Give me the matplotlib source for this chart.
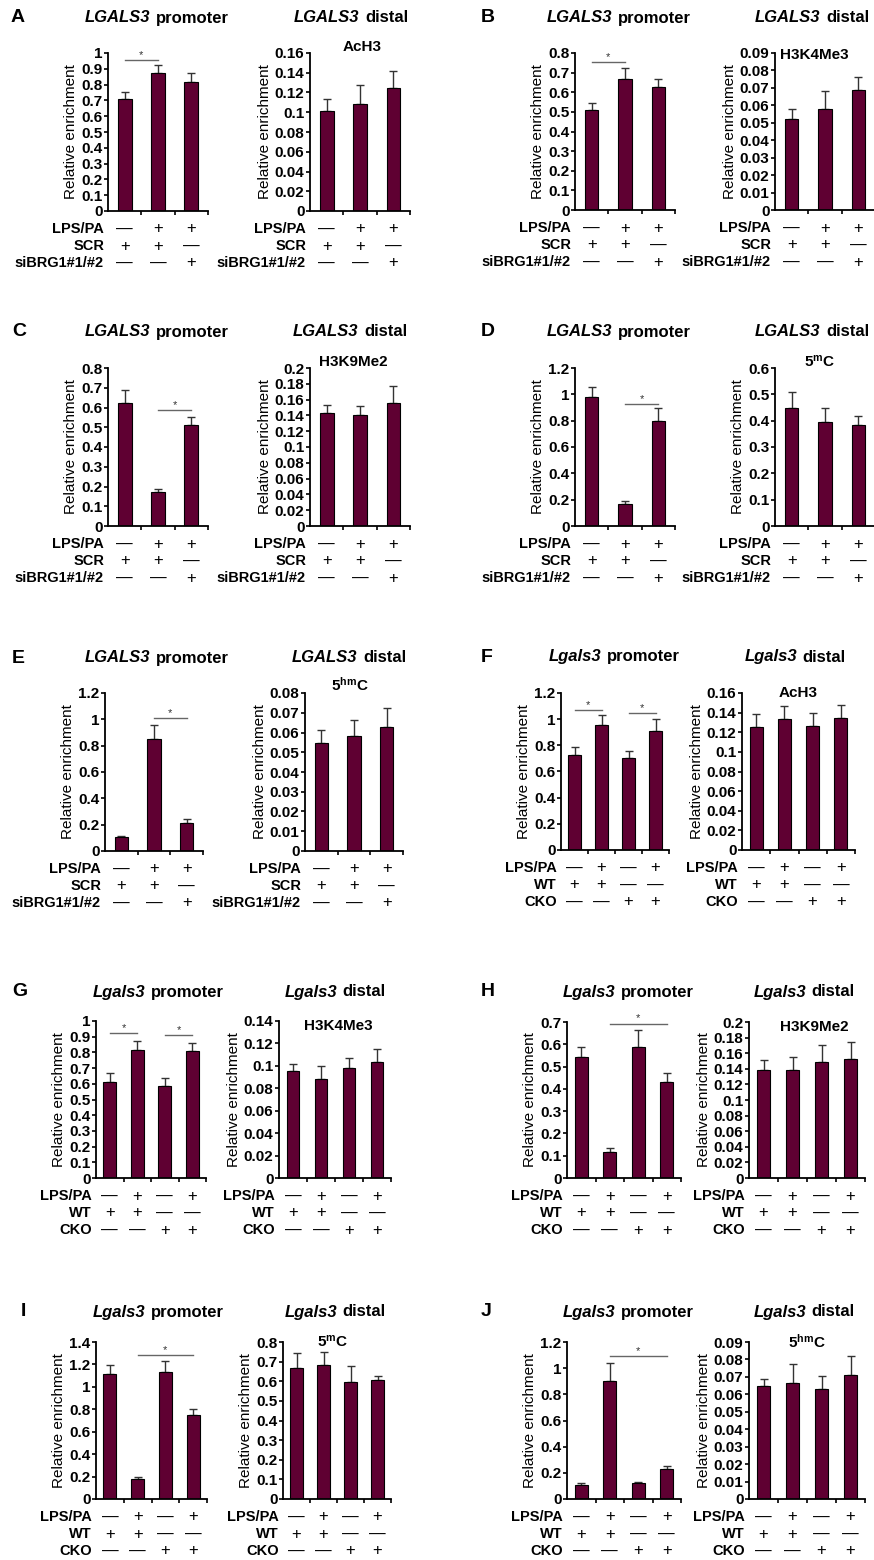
import numpy as np
import matplotlib
matplotlib.use('Agg')
import matplotlib.pyplot as plt
from matplotlib.offsetbox import TextArea, HPacker, AnnotationBbox
from matplotlib.ticker import MultipleLocator, FuncFormatter

plt.rcParams['font.family'] = ['Liberation Sans', 'DejaVu Sans']
plt.rcParams['mathtext.fontset'] = 'custom'
plt.rcParams['mathtext.rm'] = 'Liberation Sans'
plt.rcParams['mathtext.bf'] = 'Liberation Sans:bold'
plt.rcParams['mathtext.it'] = 'Liberation Sans:italic'

# --- data ---
lps3 = ['—', '+', '+']
scr = ['+', '+', '—']
sibrg = ['—', '—', '+']
lps4 = ['—', '+', '—', '+']
wt = ['+', '+', '—', '—']
cko = ['—', '—', '+', '+']

a_prom = [0.708, 0.875, 0.816]; a_prom_err = [0.044, 0.049, 0.057]
a_dist = [0.101, 0.1086, 0.1245]; a_dist_err = [0.012, 0.019, 0.0175]
b_prom = [0.508, 0.665, 0.627]; b_prom_err = [0.037, 0.058, 0.043]
b_dist = [0.0521, 0.0581, 0.0688]; b_dist_err = [0.0058, 0.0099, 0.0077]
c_prom = [0.625, 0.171, 0.510]; c_prom_err = [0.065, 0.014, 0.044]
c_dist = [0.1436, 0.1407, 0.156]; c_dist_err = [0.0094, 0.0113, 0.021]
d_prom = [0.977, 0.165, 0.80]; d_prom_err = [0.076, 0.022, 0.096]
d_dist = [0.45, 0.395, 0.384]; d_dist_err = [0.057, 0.052, 0.035]
e_prom = [0.107, 0.85, 0.214]; e_prom_err = [0.008, 0.11, 0.03]
e_dist = [0.0549, 0.0583, 0.063]; e_dist_err = [0.0065, 0.0081, 0.0092]
f_prom = [0.725, 0.954, 0.70, 0.911]; f_prom_err = [0.064, 0.076, 0.058, 0.092]
f_dist = [0.125, 0.1336, 0.126, 0.1342]; f_dist_err = [0.014, 0.0128, 0.0137, 0.0133]
g_prom = [0.613, 0.818, 0.583, 0.808]; g_prom_err = [0.055, 0.053, 0.055, 0.055]
g_dist = [0.0953, 0.0879, 0.0985, 0.103]; g_dist_err = [0.0065, 0.0118, 0.0083, 0.0121]
h_prom = [0.544, 0.116, 0.589, 0.429]; h_prom_err = [0.045, 0.02, 0.077, 0.043]
h_dist = [0.139, 0.138, 0.1485, 0.153]; h_dist_err = [0.012, 0.017, 0.0215, 0.021]
i_prom = [1.113, 0.181, 1.131, 0.748]; i_prom_err = [0.083, 0.018, 0.103, 0.059]
i_dist = [0.669, 0.685, 0.595, 0.608]; i_dist_err = [0.077, 0.064, 0.081, 0.019]
j_prom = [0.107, 0.90, 0.125, 0.229]; j_prom_err = [0.018, 0.143, 0.007, 0.025]
j_dist = [0.0648, 0.0667, 0.0631, 0.0713]; j_dist_err = [0.0039, 0.0105, 0.0076, 0.0109]

# axis max / tick step
prom_scale = {'A': (1, 0.1), 'B': (0.8, 0.1), 'C': (0.8, 0.1), 'D': (1.2, 0.2), 'E': (1.2, 0.2),
              'F': (1.2, 0.2), 'G': (1, 0.1), 'H': (0.7, 0.1), 'I': (1.4, 0.2), 'J': (1.2, 0.2)}
dist_scale = {'A': (0.16, 0.02), 'B': (0.09, 0.01), 'C': (0.2, 0.02), 'D': (0.6, 0.1), 'E': (0.08, 0.01),
              'F': (0.16, 0.02), 'G': (0.14, 0.02), 'H': (0.2, 0.02), 'I': (0.8, 0.1), 'J': (0.09, 0.01)}
# significance: (bar i, bar j, height)
sig = {'A': [(0, 1, 0.953)], 'B': [(0, 1, 0.756)], 'C': [(1, 2, 0.588)], 'D': [(1, 2, 0.929)],
       'E': [(1, 2, 1.01)], 'F': [(0, 1, 1.069), (2, 3, 1.048)], 'G': [(0, 1, 0.926), (2, 3, 0.909)],
       'H': [(1, 3, 0.693)], 'I': [(1, 3, 1.282)], 'J': [(1, 3, 1.092)]}
marks = {'A': 'AcH3', 'B': 'H3K4Me3', 'C': 'H3K9Me2', 'D': r'$\mathbf{5^{m}C}$', 'E': r'$\mathbf{5^{hm}C}$',
         'F': 'AcH3', 'G': 'H3K4Me3', 'H': 'H3K9Me2', 'I': r'$\mathbf{5^{m}C}$', 'J': r'$\mathbf{5^{hm}C}$'}

panels = {
    'A': (a_prom, a_prom_err, a_dist, a_dist_err, 'LGALS3', [('LPS/PA', lps3), ('SCR', scr), ('siBRG1#1/#2', sibrg)]),
    'B': (b_prom, b_prom_err, b_dist, b_dist_err, 'LGALS3', [('LPS/PA', lps3), ('SCR', scr), ('siBRG1#1/#2', sibrg)]),
    'C': (c_prom, c_prom_err, c_dist, c_dist_err, 'LGALS3', [('LPS/PA', lps3), ('SCR', scr), ('siBRG1#1/#2', sibrg)]),
    'D': (d_prom, d_prom_err, d_dist, d_dist_err, 'LGALS3', [('LPS/PA', lps3), ('SCR', scr), ('siBRG1#1/#2', sibrg)]),
    'E': (e_prom, e_prom_err, e_dist, e_dist_err, 'LGALS3', [('LPS/PA', lps3), ('SCR', scr), ('siBRG1#1/#2', sibrg)]),
    'F': (f_prom, f_prom_err, f_dist, f_dist_err, 'Lgals3', [('LPS/PA', lps4), ('WT', wt), ('CKO', cko)]),
    'G': (g_prom, g_prom_err, g_dist, g_dist_err, 'Lgals3', [('LPS/PA', lps4), ('WT', wt), ('CKO', cko)]),
    'H': (h_prom, h_prom_err, h_dist, h_dist_err, 'Lgals3', [('LPS/PA', lps4), ('WT', wt), ('CKO', cko)]),
    'I': (i_prom, i_prom_err, i_dist, i_dist_err, 'Lgals3', [('LPS/PA', lps4), ('WT', wt), ('CKO', cko)]),
    'J': (j_prom, j_prom_err, j_dist, j_dist_err, 'Lgals3', [('LPS/PA', lps4), ('WT', wt), ('CKO', cko)]),
}

# --- layout in pixels (874 x 1560) ---
W, H = 874, 1560
# (prom x0, x1, dist x0, x1, y_top, y_bottom)
layout = {
    'A': (108, 208, 310, 410, 53, 211), 'B': (575, 675, 775, 875, 53, 210),
    'C': (108, 208, 310, 410, 368, 526), 'D': (575, 675, 775, 875, 368, 526),
    'E': (105, 203, 305, 403, 693, 851), 'F': (561, 669, 742, 855, 693, 850),
    'G': (96, 206, 279, 391, 1021, 1178), 'H': (567, 681, 749, 865, 1022, 1178),
    'I': (96, 207, 283, 391, 1342, 1499), 'J': (567, 681, 749, 865, 1342, 1499),
}
# (letter x, title y, prom title x, dist title x)
heads = {
    'A': (11, 18, 157, 351), 'B': (481, 18, 619, 812),
    'C': (12, 332, 157, 350), 'D': (481, 332, 619, 812),
    'E': (12, 658, 157, 349), 'F': (481, 657, 614, 795),
    'G': (12, 992, 158, 335), 'H': (481, 992, 628, 804),
    'I': (21, 1312, 158, 335), 'J': (481, 1312, 628, 804),
}
mark_pos = {'A': (0.52, 1.04), 'B': (0.39, 0.99), 'C': (0.43, 1.04), 'D': (0.45, 1.04), 'E': (0.46, 1.05),
            'F': (0.50, 1.00), 'G': (0.53, 0.97), 'H': (0.56, 0.97), 'I': (0.46, 1.00), 'J': (0.50, 1.00)}

bar_color = '#5f0032'
fmt = FuncFormatter(lambda v, p: ('%.3f' % v).rstrip('0').rstrip('.'))

fig = plt.figure(figsize=(W / 100, H / 100), dpi=100)


def make_ax(x0, x1, y0, y1):
    return fig.add_axes([x0 / W, 1 - y1 / H, (x1 - x0) / W, (y1 - y0) / H])


def draw(ax, vals, errs, ymax, step, rows, w_px, h_px):
    n = len(vals)
    x = np.arange(n)
    width = 0.41 if n == 3 else 0.46
    ax.bar(x, vals, width=width, color=bar_color, edgecolor='black', linewidth=0.8, zorder=2)
    ax.errorbar(x, vals, yerr=[np.zeros(n), errs], fmt='none', ecolor='#333333',
                elinewidth=1, capsize=3, capthick=1, zorder=1)
    ax.set_xlim(-0.5, n - 0.5)
    ax.set_ylim(0, ymax)
    ax.yaxis.set_major_locator(MultipleLocator(step))
    ax.yaxis.set_major_formatter(fmt)
    ax.set_xticks(np.arange(0.5, n, 1))
    ax.set_xticklabels([])
    ax.tick_params(direction='out', length=3, width=1.2, pad=1)
    for lab in ax.get_yticklabels():
        lab.set_fontweight('bold')
        lab.set_fontsize(11)
    for s in ['top', 'right']:
        ax.spines[s].set_visible(False)
    for s in ['left', 'bottom']:
        ax.spines[s].set_linewidth(1.3)
    ax.set_ylabel('Relative enrichment', fontsize=11, labelpad=2)
    # treatment table under the axis
    for k, (name, signs) in enumerate(rows):
        yy = -(18 + 17 * k) / h_px
        ax.text(-4 / w_px, yy, name, transform=ax.transAxes, ha='right', va='center',
                fontsize=10.5, fontweight='bold', clip_on=False)
        for xi, s in zip(x, signs):
            ax.text(xi, yy, s, transform=ax.get_xaxis_transform(), ha='center', va='center',
                    fontsize=12, clip_on=False)


def title(xc, yc, gene, rest):
    box = HPacker(children=[TextArea(gene, textprops=dict(fontstyle='italic', fontweight='bold', fontsize=12)),
                            TextArea(rest, textprops=dict(fontweight='bold', fontsize=12))],
                  align='baseline', pad=0, sep=4)
    ab = AnnotationBbox(box, (xc, H - yc), xycoords='figure pixels', frameon=False, box_alignment=(0.5, 0.5))
    fig.add_artist(ab)


for key, (pv, pe, dv, de, gene, rows) in panels.items():
    px0, px1, dx0, dx1, yt, yb = layout[key]
    lx, ty, ptx, dtx = heads[key]
    h_px = yb - yt

    ax1 = make_ax(px0, px1, yt, yb)
    draw(ax1, pv, pe, prom_scale[key][0], prom_scale[key][1], rows, px1 - px0, h_px)
    for i, j, yy in sig[key]:
        ax1.plot([i, j], [yy, yy], color='#666666', lw=1, clip_on=False, zorder=3)
        ax1.text((i + j) / 2, yy, '*', ha='center', va='bottom', fontsize=8, color='#333333', clip_on=False)

    ax2 = make_ax(dx0, dx1, yt, yb)
    draw(ax2, dv, de, dist_scale[key][0], dist_scale[key][1], rows, dx1 - dx0, h_px)
    mx, my = mark_pos[key]
    ax2.text(mx, my, marks[key], transform=ax2.transAxes, ha='center', va='center',
             fontsize=11, fontweight='bold', clip_on=False)

    fig.text(lx / W, 1 - ty / H, key, ha='left', va='center', fontsize=14, fontweight='bold')
    title(ptx, ty, gene, 'promoter')
    title(dtx, ty, gene, 'distal')

fig.savefig('out.png', dpi=100)
